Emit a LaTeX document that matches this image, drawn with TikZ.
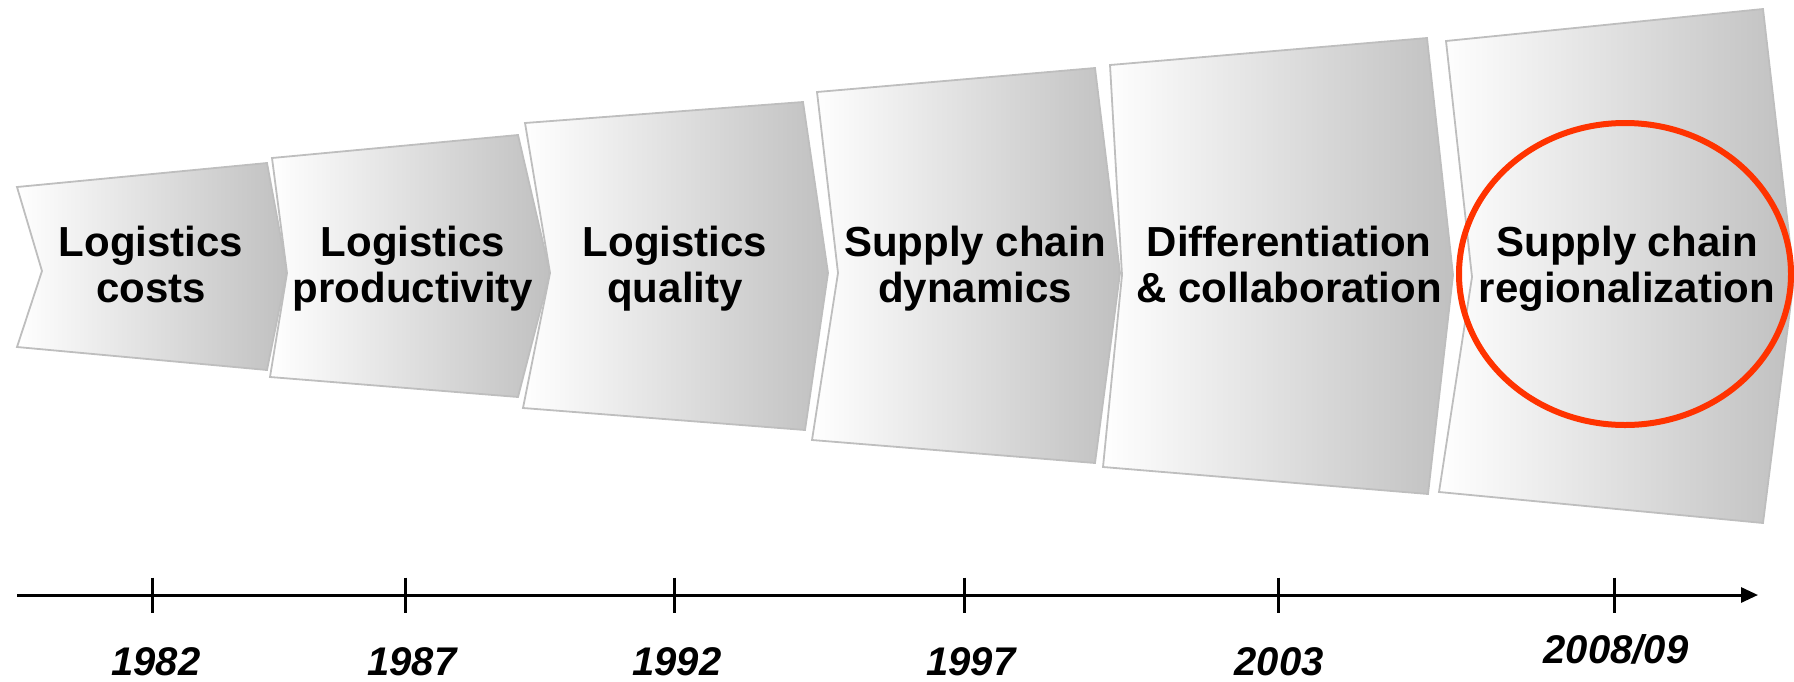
\documentclass[tikz,border=0pt]{standalone}
\usepackage{fontspec}
\setmainfont{Liberation Sans}
\usetikzlibrary{arrows.meta,shapes.geometric}
\definecolor{edgegray}{RGB}{190,190,190}
\definecolor{endgray}{RGB}{192,192,192}
\definecolor{hlred}{RGB}{255,51,0}
\newcommand\twolines[2]{\rule{0pt}{32pt}#1\\#2\rule[-10pt]{0pt}{10pt}}
\begin{document}
\begin{tikzpicture}[x=1pt,y=-1pt,
  stage/.style={draw=edgegray, line width=1.8pt, left color=white, right color=endgray, line join=miter},
  stagelabel/.style={align=center, font=\fontsize{42}{46}\selectfont\bfseries, inner sep=0pt},
  yearlabel/.style={font=\fontsize{40}{46}\selectfont\bfseries\itshape, inner sep=0pt, anchor=base},
  axisline/.style={line width=3pt},
  tickline/.style={line width=3pt}
]
\useasboundingbox (0,0) rectangle (1794,681);

% stages
\path[stage] (17,187) -- (267,163) -- (287,271) -- (267,370) -- (17,347) -- (42,271) -- cycle;
\path[stage] (272,158) -- (518,135) -- (550,273) -- (518,397) -- (270,377) -- (287,273) -- cycle;
\path[stage] (525,123) -- (803,102) -- (828,273) -- (805,430) -- (523,408) -- (550,273) -- cycle;
\path[stage] (817,92) -- (1095,68) -- (1120,273) -- (1095,463) -- (812,440) -- (838,273) -- cycle;
\path[stage] (1110,65) -- (1427,38) -- (1453,275) -- (1428,494) -- (1103,467) -- (1122,275) -- cycle;
\path[stage] (1446,41) -- (1763,9) -- (1794,278) -- (1763,523) -- (1439,492) -- (1472,277) -- cycle;

% highlight
\node[ellipse, draw=hlred, line width=6pt, minimum width=332pt, minimum height=302pt, inner sep=0pt] (focus) at (1625,274) {};

% labels
\node[stagelabel] (s1) at (151,268) {\twolines{Logistics}{costs}};
\node[stagelabel] (s2) at (413,268) {\twolines{Logistics}{productivity}};
\node[stagelabel] (s3) at (675,268) {\twolines{Logistics}{quality}};
\node[stagelabel] (s4) at (975,268) {\twolines{Supply chain}{dynamics}};
\node[stagelabel] (s5) at (1289,268) {\twolines{Differentiation}{\& collaboration}};
\node[stagelabel] (s6) at (1627,268) {\twolines{Supply chain}{regionalization}};

% time axis
\coordinate (axstart) at (17,595);
\coordinate (axend) at (1758,595);
\draw[axisline, -{Triangle[length=17pt,width=15pt]}] (axstart) -- (axend);
\foreach \x/\n in {152/a,405/b,674/c,964/d,1278/e,1614/f}{
  \coordinate (tk\n) at (\x,595);
  \draw[tickline] ([yshift=17.5pt]tk\n) -- ([yshift=-17.5pt]tk\n);
}

% years
\node[yearlabel] (y1) at (156,675) {1982};
\node[yearlabel] (y2) at (412,675) {1987};
\node[yearlabel] (y3) at (677,675) {1992};
\node[yearlabel] (y4) at (971,675) {1997};
\node[yearlabel] (y5) at (1279,675) {2003};
\node[yearlabel] (y6) at (1616,663) {2008/09};
\end{tikzpicture}
\end{document}
